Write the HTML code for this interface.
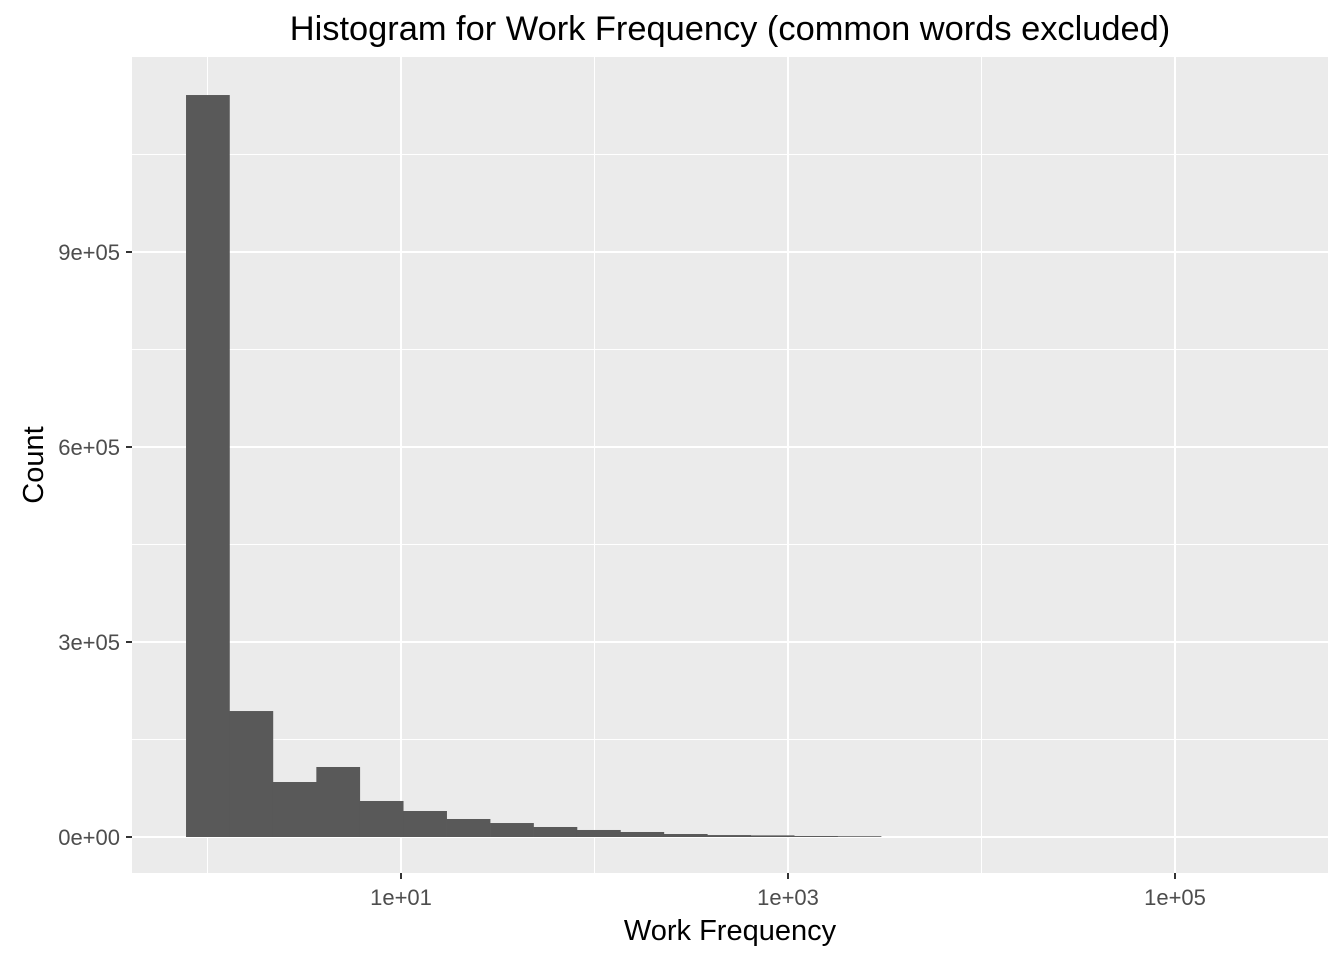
<!DOCTYPE html>
<html><head><meta charset="utf-8"><style>
body{margin:0;background:#fff;}
svg text{font-family:"Liberation Sans",Arial,sans-serif;}
</style></head><body>
<svg id="chart" width="1344" height="960">
<rect x="132" y="57" width="1196" height="816" fill="#ebebeb"/>
<g id="grid"></g><g id="bars"></g><g id="axes"></g>
<text x="730" y="40" font-size="34.4px" text-anchor="middle" fill="#000">Histogram for Work Frequency (common words excluded)</text>
<text x="730" y="940" font-size="29px" text-anchor="middle" fill="#000">Work Frequency</text>
<text transform="translate(43,465) rotate(-90)" font-size="29px" text-anchor="middle" fill="#000">Count</text>
</svg>
<script>
const binLeftLog10 = [-0.111,0.1135,0.338,0.5625,0.787,1.0115,1.236,1.4605,1.685,1.9095,2.134,2.3585,2.583,2.8075,3.032,3.2565];
const binWidthLog10 = 0.2245;
const counts = [1141500,193800,84600,107700,55400,40000,27700,21500,15400,10800,7700,4600,3000,2500,1500,1200];
const yTicks = [0,300000,600000,900000];
const yTickLabels = ["0e+00","3e+05","6e+05","9e+05"];
const yMinor = [150000,450000,750000,1050000];
const xTicks = [1,3,5];
const xTickLabels = ["1e+01","1e+03","1e+05"];
const xMinor = [0,2,4];

const NS="http://www.w3.org/2000/svg";
const xs = l => 401 + (l-1)*193.5;
const ys = v => 837 - v/300000*195;
function mk(tag, attrs, parent){const e=document.createElementNS(NS,tag);for(const k in attrs)e.setAttribute(k,attrs[k]);document.getElementById(parent).appendChild(e);return e;}

xMinor.forEach(l=>{const e=mk('line',{x1:xs(l),x2:xs(l),y1:57,y2:873,stroke:'#fff','stroke-width':1},'grid');

});
yMinor.forEach(v=>{const e=mk('line',{x1:132,x2:1328,y1:ys(v),y2:ys(v),stroke:'#fff','stroke-width':1},'grid');

});
xTicks.forEach((l,i)=>{const e=mk('line',{x1:xs(l),x2:xs(l),y1:57,y2:873,stroke:'#fff','stroke-width':2},'grid');


const t=mk('line',{x1:xs(l),x2:xs(l),y1:873,y2:879,stroke:'#333','stroke-width':2},'axes');


const tx=mk('text',{x:xs(l),y:905,'font-size':'22px','text-anchor':'middle',fill:'#4d4d4d'},'axes');tx.textContent=xTickLabels[i];

});
yTicks.forEach((v,i)=>{const e=mk('line',{x1:132,x2:1328,y1:ys(v),y2:ys(v),stroke:'#fff','stroke-width':2},'grid');


const t=mk('line',{x1:126,x2:132,y1:ys(v),y2:ys(v),stroke:'#333','stroke-width':2},'axes');


const tx=mk('text',{x:120,y:ys(v)+8,'font-size':'22px','text-anchor':'end',fill:'#4d4d4d'},'axes');tx.textContent=yTickLabels[i];

});
counts.forEach((c,i)=>{const x0=xs(binLeftLog10[i]),x1=xs(binLeftLog10[i]+binWidthLog10);
const b=mk('rect',{x:x0,y:ys(c),width:x1-x0+0.3,height:ys(0)-ys(c),fill:'#595959'},'bars');

});
</script>
</body></html>
